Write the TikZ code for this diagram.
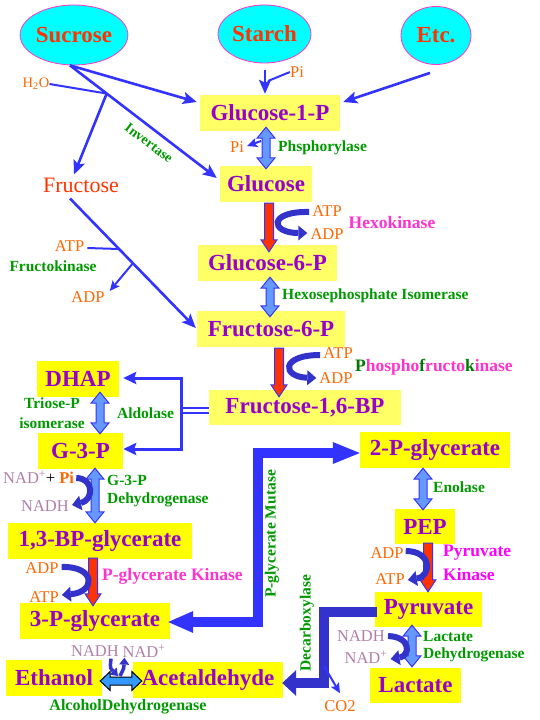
\documentclass[tikz,border=0pt]{standalone}
\usepackage{fontspec}
\setmainfont{Liberation Serif}
\usetikzlibrary{arrows.meta,calc,shapes.geometric}
\definecolor{cyanfill}{HTML}{00FFFF}
\definecolor{ovalline}{HTML}{FF33CC}
\definecolor{redo}{HTML}{FF3300}
\definecolor{purp}{HTML}{9900CC}
\definecolor{paley}{HTML}{FFFF66}
\definecolor{yel}{HTML}{FFFF00}
\definecolor{blu}{HTML}{3333FF}
\definecolor{dblu}{HTML}{3333CC}
\definecolor{orng}{HTML}{FF6600}
\definecolor{grn}{HTML}{009900}
\definecolor{dgrn}{HTML}{007700}
\definecolor{pnk}{HTML}{FF33CC}
\definecolor{mag}{HTML}{FF00FF}
\definecolor{mauve}{HTML}{B07FA8}
\definecolor{lblu}{HTML}{6699FF}
\definecolor{sky}{HTML}{3399FF}
\newcommand{\dblv}[2]{\draw[dblfat] let \p1=(#1),\p2=(#2) in (\x1,\y1) -- (\x1+9pt,\y1-11pt) -- (\x1+4pt,\y1-11pt) -- (\x1+4pt,\y2+11pt) -- (\x1+9pt,\y2+11pt) -- (\x1,\y2) -- (\x1-9pt,\y2+11pt) -- (\x1-4pt,\y2+11pt) -- (\x1-4pt,\y1-11pt) -- (\x1-9pt,\y1-11pt) -- cycle;}
\newcommand{\redv}[2]{\draw[redfat] let \p1=(#1),\p2=(#2) in (\x1-4.5pt,\y1) -- (\x1+4.5pt,\y1) -- (\x1+4.5pt,\y2+12pt) -- (\x1+8pt,\y2+12pt) -- (\x1,\y2) -- (\x1-8pt,\y2+12pt) -- (\x1-4.5pt,\y2+12pt) -- cycle;}
\newcommand{\dblh}[2]{\draw[skyfat] let \p1=(#1),\p2=(#2) in (\x1,\y1) -- (\x1+10pt,\y1+9.5pt) -- (\x1+10pt,\y1+4pt) -- (\x2-10pt,\y1+4pt) -- (\x2-10pt,\y1+9.5pt) -- (\x2,\y1) -- (\x2-10pt,\y1-9.5pt) -- (\x2-10pt,\y1-4pt) -- (\x1+10pt,\y1-4pt) -- (\x1+10pt,\y1-9.5pt) -- cycle;}
\begin{document}
\begin{tikzpicture}[x=1pt,y=-1pt,
 box/.style={inner sep=0pt, text=purp, font=\fontsize{23}{25}\selectfont\bfseries, minimum height=36pt},
 pbox/.style={box, fill=paley},
 ybox/.style={box, fill=yel},
 oval/.style={ellipse, fill=cyanfill, draw=ovalline, line width=0.8pt, inner sep=0pt, text=redo, font=\fontsize{23}{25}\selectfont\bfseries},
 enz/.style={inner sep=0pt, text=grn, font=\fontsize{15.5}{20}\selectfont\bfseries},
 kin/.style={inner sep=0pt, text=pnk, font=\fontsize{17.5}{22}\selectfont\bfseries},
 chem/.style={inner sep=0pt, text=orng, font=\fontsize{16.5}{18}\selectfont},
 nad/.style={inner sep=0pt, text=mauve, font=\fontsize{16.5}{18}\selectfont},
 conn/.style={draw=blu, line width=2.6pt, -{Stealth[length=14pt,width=12pt,inset=3pt]}},
 thinconn/.style={draw=blu, line width=2pt, -{Stealth[length=10pt,width=9pt,inset=2pt]}},
 feed/.style={draw=blu, line width=2pt},
 curv/.style={draw=dblu, line width=6pt, -{Triangle[length=9pt,width=15pt,line width=0pt]}},
 smallcurv/.style={draw=dblu, line width=3.5pt, -{Triangle[length=7pt,width=10pt,line width=0pt]}},
 dblfat/.style={draw=blu, fill=lblu, line width=1pt, line join=miter},
 redfat/.style={draw=blu, fill=redo, line width=1pt},
 skyfat/.style={draw=black, fill=sky, line width=1pt},
 fatline/.style={line width=10pt, line join=miter}
]
\useasboundingbox (0,0) rectangle (540,720);

% sources
\node[oval, minimum width=86pt, minimum height=60pt] (Suc) at (74,35) {Sucrose};
\node[oval, minimum width=93pt, minimum height=58pt] (Sta) at (264.5,34) {Starch};
\node[oval, minimum width=70pt, minimum height=58pt] (Etc) at (436,35.5) {Etc.};

% boxes
\node[pbox, minimum width=140pt] (G1P) at (270,113) {Glucose-1-P};
\node[pbox, minimum width=92pt] (Glc) at (266,184) {Glucose};
\node[pbox, minimum width=139pt] (G6P) at (267.5,263) {Glucose-6-P};
\node[pbox, minimum width=148pt] (F6P) at (271,329) {Fructose-6-P};
\node[pbox, minimum width=192pt, minimum height=35pt] (FBP) at (305,407.5) {Fructose-1,6-BP};
\node[ybox, minimum width=82pt] (DHAP) at (78,379) {DHAP};
\node[ybox, minimum width=85pt] (G3P) at (80.5,451) {G-3-P};
\node[ybox, minimum width=184pt] (BPG) at (100,541) {1,3-BP-glycerate};
\node[ybox, minimum width=150pt] (PG3) at (95,621) {3-P-glycerate};
\node[ybox, minimum width=96pt] (EtOH) at (54,678) {Ethanol};
\node[ybox, minimum width=150pt] (AcAld) at (208,680) {Acetaldehyde};
\node[ybox, minimum width=150pt] (PG2) at (435,450) {2-P-glycerate};
\node[ybox, minimum width=60pt, minimum height=35pt] (PEP) at (425,526.5) {PEP};
\node[ybox, minimum width=107pt, minimum height=35pt] (Pyr) at (428.5,609.5) {Pyruvate};
\node[ybox, minimum width=91pt, minimum height=35pt] (Lac) at (415.5,685.5) {Lactate};

\node[inner sep=0pt, text=redo, font=\fontsize{22}{24}\selectfont] (Fru) at (81,185) {Fructose};

% top connectors
\coordinate (sucout) at ($(Suc.south)+(-4,0)$);
\coordinate (glcin) at ($(Glc.west)+(-3,-6)$);
\draw[conn] (sucout) -- ($(G1P.west)+(-3,-11)$);
\draw[conn] (sucout) -- (glcin);
\node[chem, font=\fontsize{14.5}{16}\selectfont] (H2O) at (36,84) {H\textsubscript{2}O};
\coordinate (j1) at ($(sucout)!0.25!(glcin)$);
\draw[feed] (H2O.east) -- (j1);
\draw[conn] (j1) -- ($(Fru.north)+(-7,-3)$);
\node[enz, font=\fontsize{14}{16}\selectfont\bfseries, rotate=-37] at (149,143) {Invertase};

\draw[conn] ($(Sta.south)+(0.5,7)$) -- ($(Sta.south |- G1P.north)+(0.5,-1)$);
\node[chem] (Pi1) at (297,72) {Pi};
\draw[feed] (Pi1.west) -- (268,81);
\draw[conn] ($(Etc.south)+(-6,8)$) -- ($(G1P.east)+(3,-11)$);

% G1P <-> Glucose
\dblv{$(G1P.south)+(-4,-4)$}{$(Glc.north)+(0,3)$}
\node[chem] (Pi2) at (237,147) {Pi};
\draw[thinconn] ($(Pi2.east)+(17,-6)$) -- ($(Pi2.east)+(3,-1)$);
\node[enz, anchor=west] at (278,148) {Phsphorylase};

% Hexokinase step
\redv{$(Glc.south)+(3,1)$}{$(G6P.north)+(1.5,7)$}
\node[chem] (ATP1) at (327,211) {ATP};
\node[chem] (ADP1) at (327,234) {ADP};
\draw[curv] ($(ATP1.west)+(-3,1)$) .. controls (268,211) and (270,233) .. ($(ADP1.west)+(-3,-1)$);
\node[kin] at (392,223) {Hexokinase};

% Fructose -> F6P
\coordinate (fs) at ($(Fru.south)+(-11,6)$);
\coordinate (fe) at ($(F6P.west)+(-1,-1)$);
\draw[conn] (fs) -- (fe);
\node[chem] (ATP2) at (69.5,246) {ATP};
\node[chem] (ADP2) at (88,297) {ADP};
\node[enz] at (53,266) {Fructokinase};
\coordinate (j2) at ($(fs)!0.39!(fe)$);
\coordinate (j3) at ($(fs)!0.5!(fe)$);
\draw[feed] ($(ATP2.east)+(3,2)$) -- (j2);
\draw[thinconn] (j3) -- ($(ADP2.east)+(5,-6)$);

% G6P <-> F6P
\dblv{$(G6P.south)+(2.5,-4)$}{$(F6P.north)+(0,6)$}
\node[enz, anchor=west] at (282,296) {Hexosephosphate Isomerase};

% PFK
\redv{$(F6P.south)+(8,1)$}{$(FBP.north)+(0,7)$}
\node[chem] (ATP3) at (338,353) {ATP};
\node[chem] (ADP3) at (336,378) {ADP};
\draw[curv] ($(ATP3.west)+(-3,2)$) .. controls (280,355) and (282,377) .. ($(ADP3.west)+(-3,0)$);
\node[kin, anchor=west] at (355,367) {\color{dgrn}P\color{pnk}hospho\color{dgrn}f\color{pnk}ructo\color{dgrn}k\color{pnk}inase};

% Aldolase
\coordinate (aldM) at (181,410.5);
\draw[draw=blu, line width=2pt, double=white, double distance=3pt] (aldM) -- (aldM -| FBP.west);
\draw[draw=blu, line width=3pt, -{Stealth[length=13pt,width=12pt,inset=2pt]}] (aldM) |- ($(DHAP.east)+(4,-1)$);
\draw[draw=blu, line width=3pt, -{Stealth[length=13pt,width=12pt,inset=2pt]}] (aldM) |- ($(G3P.east)+(0,-2)$);
\node[enz] at (145.5,413) {Aldolase};

% Triose-P isomerase
\dblv{$(DHAP.south)+(22,-5)$}{$(G3P.north)+(0,1)$}
\node[enz, align=center] at (52,413) {Triose-P\\isomerase};

% G3P dehydrogenase
\dblv{$(G3P.south)+(14.5,-1)$}{$(BPG.north)+(0,0)$}
\node[anchor=west, inner sep=0pt, font=\fontsize{16.5}{18}\selectfont] (NADPi) at (3,477) {\color{mauve}NAD\textsuperscript{+}\color{black}+ \color{orng}\bfseries Pi};
\node[nad] (NADH1) at (45,506) {NADH};
\draw[curv] ($(NADPi.east)+(2,1)$) .. controls (94,478) and (94,500) .. ($(NADH1.east)+(3,-1)$);
\node[enz, anchor=west] at (107,480) {G-3-P};
\node[enz, anchor=west] at (107,500) {Dehydrogenase};

% P-glycerate kinase
\redv{$(BPG.south)+(-7,-1)$}{$(PG3.north)+(0,3)$}
\node[chem] (ADP4) at (42,568) {ADP};
\node[chem] (ATP4) at (44,597) {ATP};
\draw[curv] ($(ADP4.east)+(3,-1)$) .. controls (96,566) and (96,592) .. ($(ATP4.east)+(3,-2)$);
\node[kin, anchor=west] at (102,576) {P-glycerate Kinase};

% Mutase
\draw[fatline, draw=blu, {Triangle[length=25pt,width=22pt,line width=0pt]}-{Triangle[length=27pt,width=22pt,line width=0pt]}] ($(PG3.east)+(-2,1)$) -- (257.5,622) -- (257.5,453) -- ($(PG2.west)+(0,3)$);
\node[enz, rotate=90] at (272,534) {P-glycerate Mutase};

% Enolase
\dblv{$(PG2.south)+(-12,0)$}{$(PEP.north)+(0,1)$}
\node[enz, anchor=west] at (433,487) {Enolase};

% Pyruvate kinase
\redv{$(PEP.south)+(3,-1)$}{$(Pyr.north)+(0,0)$}
\node[chem] (ADP5) at (387,553) {ADP};
\node[chem] (ATP5) at (390,579) {ATP};
\draw[curv] ($(ADP5.east)+(2,-2)$) .. controls (432,551) and (432,576) .. ($(ATP5.east)+(3,1)$);
\node[kin, text=mag, anchor=west] at (443,553) {Pyruvate};
\node[kin, text=mag, anchor=west] at (443,575) {Kinase};

% Lactate dehydrogenase
\dblv{$(Pyr.south)+(-16.5,-2)$}{$(Lac.north)+(0,-1)$}
\node[nad] (NADH6) at (361,636) {NADH};
\node[nad] (NAD6) at (366,657) {NAD\textsuperscript{+}};
\draw[curv] ($(NADH6.east)+(3,0)$) .. controls (412,637) and (410,656) .. ($(NAD6.east)+(3,2)$);
\node[enz, anchor=west] at (423,636) {Lactate};
\node[enz, anchor=west] at (423,655) {Dehydrogenase};

% Decarboxylase
\draw[fatline, draw=dblu, -{Triangle[length=14pt,width=26pt,line width=0pt]}] ($(Pyr.west)+(2,2.5)$) -- (324,612) -- (324,683) -- ($(AcAld.east)+(-1,3)$);
\coordinate (decC) at (324,666);
\node[chem] (CO2) at (340,706) {CO2};
\draw[thinconn] (decC) -- ($(CO2.north)+(0,-7)$);
\node[enz, rotate=90] at (307,623) {Decarboxylase};

% Alcohol dehydrogenase
\dblh{$(EtOH.east)+(-2,3)$}{$(AcAld.west)+(9,1)$}
\node[nad] (NADH7) at (95,651) {NADH};
\node[nad] (NAD7) at (144,651) {NAD\textsuperscript{+}};
\draw[smallcurv] ($(NADH7.south east)+(-8,2)$) .. controls (110,668) .. (118,676);
\draw[smallcurv] (120,676) .. controls (124,668) .. ($(NAD7.south west)+(2,0)$);
\node[enz, font=\fontsize{16}{18}\selectfont\bfseries] at (128,707) {AlcoholDehydrogenase};
\end{tikzpicture}
\end{document}
